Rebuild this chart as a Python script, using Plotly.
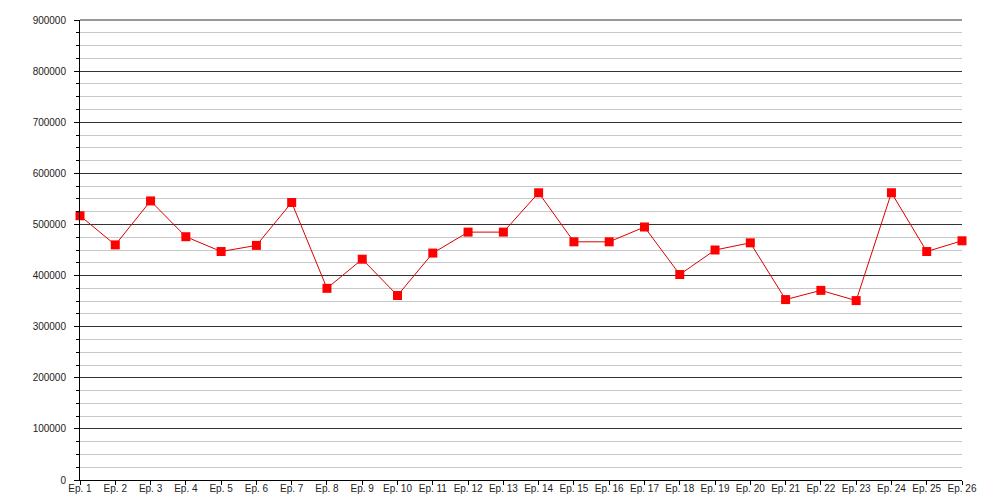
import plotly.graph_objects as go

episodes = [f"Ep. {i}" for i in range(1, 27)]
viewers = [517000, 460000, 546000, 476000, 447000, 459000, 543000, 375000, 432000, 361000,
           444000, 485000, 485000, 562000, 466000, 466000, 495000, 402000, 450000, 464000,
           353000, 371000, 351000, 562000, 447000, 468000]
y_ticks = list(range(0, 900001, 100000))

fig = go.Figure()
fig.add_trace(go.Scatter(
    x=list(range(len(episodes))), y=viewers, mode="lines+markers",
    line=dict(color="#dd0000", width=1),
    marker=dict(symbol="square", size=9, color="#ff0000", line=dict(width=0)),
    hoverinfo="y", showlegend=False, cliponaxis=False,
))
fig.update_layout(
    width=992, height=492,
    margin=dict(l=72, r=38, t=12, b=20),
    paper_bgcolor="white", plot_bgcolor="white",
    font=dict(family="Liberation Sans, Arial, sans-serif", size=10, color="#222"),
    xaxis=dict(
        range=[0, 25], tickmode="array", tickvals=list(range(len(episodes))), ticktext=episodes,
        showgrid=False, zeroline=False, showline=True, linecolor="black", linewidth=1,
        ticks="outside", ticklen=4, tickcolor="black", automargin=False,
        ticklabelstandoff=-5,
    ),
    yaxis=dict(
        range=[0, 900000], tickmode="array", tickvals=y_ticks,
        ticktext=[str(v) for v in y_ticks],
        showgrid=True, gridcolor="#333", gridwidth=1, zeroline=False,
        showline=True, linecolor="black", linewidth=1,
        ticks="outside", ticklen=5, tickcolor="black", automargin=False,
        ticklabelstandoff=6,
        minor=dict(dtick=25000, showgrid=True, gridcolor="#c8c8c8", ticks="outside",
                   ticklen=3, tickcolor="black"),
    ),
    shapes=[dict(type="line", xref="paper", yref="paper", x0=0, x1=1, y0=1, y1=1,
                 line=dict(color="#333", width=1))],
)
fig.write_html("out.html")
